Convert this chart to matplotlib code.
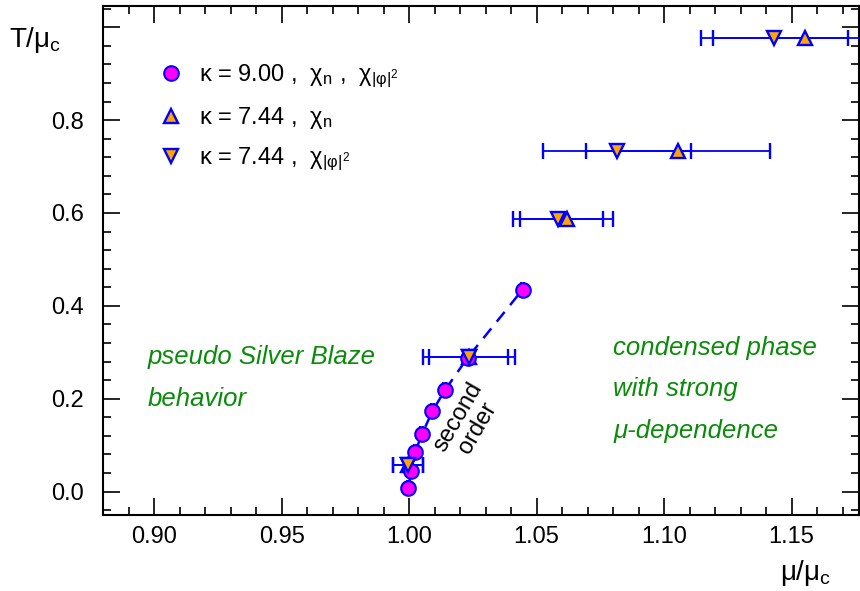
import matplotlib
matplotlib.use('Agg')
import matplotlib.pyplot as plt
from matplotlib.lines import Line2D
from matplotlib.ticker import MultipleLocator, FuncFormatter

plt.rcParams['font.family'] = ['Liberation Sans', 'DejaVu Sans']
plt.rcParams['mathtext.fontset'] = 'custom'
plt.rcParams['mathtext.rm'] = 'Liberation Sans'
plt.rcParams['mathtext.it'] = 'Liberation Sans:italic'

# kappa = 9.00: chi_n and chi_|phi|^2 coincide
mu_k9 = [0.9997, 1.0007, 1.0024, 1.0050, 1.0091, 1.0140, 1.0229, 1.0445]
T_k9 = [0.008, 0.044, 0.086, 0.123, 0.173, 0.218, 0.288, 0.435]
mu_k9_err = [0.0006, 0.0006, 0.0006, 0.0006, 0.0006, 0.0006, 0.0006, 0.0006]

# kappa = 7.44, chi_n (up triangles)
mu_n = [0.9996, 1.0233, 1.0618, 1.1056, 1.1553]
T_n = [0.058, 0.289, 0.5865, 0.733, 0.977]
mu_n_err = [0.0058, 0.0155, 0.0183, 0.0361, 0.036]

# kappa = 7.44, chi_|phi|^2 (down triangles)
mu_phi = [0.9996, 1.0235, 1.0584, 1.0815, 1.1433]
T_phi = [0.058, 0.289, 0.5865, 0.733, 0.977]
mu_phi_err = [0.0058, 0.0179, 0.0177, 0.029, 0.029]

blue = '#0000ff'
green = '#0a8c0a'
tsize = 18.5

fig = plt.figure(figsize=(8.6, 5.91), dpi=100)
ax = fig.add_axes([0.12, 0.129, 0.879, 0.861])

ax.plot(mu_k9, T_k9, color=blue, linestyle='--', linewidth=1.8,
        dashes=(5, 3.5), zorder=2)

ax.errorbar(mu_phi, T_phi, xerr=mu_phi_err, fmt='v', color=blue, ecolor=blue,
            mfc='#ffa500', mec=blue, mew=1.7, ms=10, elinewidth=1.3,
            capsize=6, capthick=1.5, zorder=3)
ax.errorbar(mu_n, T_n, xerr=mu_n_err, fmt='^', color=blue, ecolor=blue,
            mfc='#ffa500', mec=blue, mew=1.7, ms=10, elinewidth=1.3,
            capsize=6, capthick=1.5, zorder=3)
ax.errorbar(mu_k9, T_k9, xerr=mu_k9_err, fmt='o', color=blue, ecolor=blue,
            mfc='#ff00ff', mec=blue, mew=1.5, ms=10.5, elinewidth=1.0,
            capsize=6, capthick=1.2, zorder=4)
# lowest two down-triangles sit on top of the circles
ax.plot(mu_phi[:2], T_phi[:2], 'v', mfc='#ffa500', mec=blue, mew=1.7, ms=10, zorder=5)

ax.set_xlim(0.88, 1.1765)
ax.set_ylim(-0.05, 1.046)

ax.xaxis.set_major_locator(MultipleLocator(0.05))
ax.xaxis.set_minor_locator(MultipleLocator(0.01))
ax.yaxis.set_major_locator(MultipleLocator(0.2))
ax.yaxis.set_minor_locator(MultipleLocator(0.04))
ax.xaxis.set_major_formatter(FuncFormatter(lambda v, p: f'{v:.2f}'))
ax.yaxis.set_major_formatter(FuncFormatter(lambda v, p: f'{v:.1f}' if v < 0.95 else ''))

ax.tick_params(which='both', direction='in', top=True, right=True,
               labelsize=17, width=1.2, colors='black')
ax.tick_params(which='major', length=12)
ax.tick_params(which='minor', length=5.5)
ax.tick_params(axis='x', which='major', pad=8)
ax.tick_params(axis='y', which='major', pad=14)
for s in ax.spines.values():
    s.set_linewidth(1.5)

fig.text(0.01, 0.92, r'T/$\mathrm{\mu_c}$', fontsize=20, ha='left', va='baseline')
fig.text(0.967, 0.018, r'$\mathrm{\mu/\mu_c}$', fontsize=20, ha='right', va='baseline')

# legend
handles = [
    Line2D([], [], ls='none', marker='o', mfc='#ff00ff', mec=blue, mew=1.5, ms=10.5),
    Line2D([], [], ls='none', marker='^', mfc='#ffa500', mec=blue, mew=1.7, ms=10),
    Line2D([], [], ls='none', marker='v', mfc='#ffa500', mec=blue, mew=1.7, ms=10),
]
labels = [
    r'κ = 9.00 ,  χ$_\mathrm{n}$ ,  χ$_{\mathrm{|φ|^2}}$',
    r'κ = 7.44 ,  χ$_\mathrm{n}$',
    r'κ = 7.44 ,  χ$_{\mathrm{|φ|^2}}$',
]
ax.legend(handles, labels, loc='upper left', bbox_to_anchor=(0.043, 0.93),
          frameon=False, fontsize=17, labelspacing=0.62, handletextpad=0.6,
          handlelength=1.2)

ax.text(0.8973, 0.29, 'pseudo Silver Blaze', color=green, fontsize=tsize,
        style='italic', ha='left', va='center')
ax.text(0.8973, 0.20, 'behavior', color=green, fontsize=tsize,
        style='italic', ha='left', va='center')
ax.text(1.08, 0.31, 'condensed phase', color=green, fontsize=tsize,
        style='italic', ha='left', va='center')
ax.text(1.08, 0.22, 'with strong', color=green, fontsize=tsize,
        style='italic', ha='left', va='center')
ax.text(1.08, 0.13, 'μ-dependence', color=green, fontsize=tsize,
        style='italic', ha='left', va='center')

ax.text(1.023, 0.149, 'second\norder', color='black', fontsize=17,
        rotation=60, ha='center', va='center', multialignment='center',
        linespacing=1.0, rotation_mode='anchor')

fig.savefig('out.png', dpi=100)
